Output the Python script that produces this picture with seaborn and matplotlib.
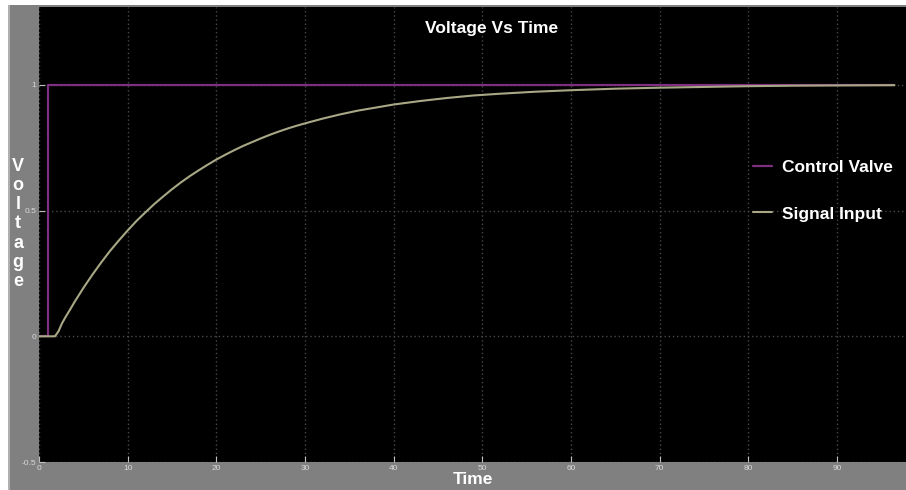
import matplotlib
matplotlib.use("Agg")
import matplotlib.pyplot as plt
import seaborn as sns
import pandas as pd
from matplotlib.patches import Rectangle

# ---- data ----
valve_time = [0, 1.0, 1.0, 96.5]
valve_volt = [0, 0, 1, 1]

signal_time = [0, 1.8, 2.2, 2.6, 3, 3.5, 4, 5, 6, 7, 8, 9, 10, 11, 12, 13, 14, 15,
               16, 17, 18, 19, 20, 21, 22, 23, 24, 25, 26, 27, 28, 29, 30,
               32, 34, 36, 38, 40, 43, 46, 49, 52, 56, 60, 65, 70, 75, 80,
               85, 90, 96.5]
signal_volt = [0, 0, 0.02, 0.052, 0.077, 0.106, 0.136, 0.192, 0.244, 0.293,
               0.339, 0.381, 0.421, 0.459, 0.493, 0.526, 0.556, 0.585, 0.612,
               0.637, 0.66, 0.682, 0.703, 0.722, 0.74, 0.757, 0.772, 0.787,
               0.801, 0.814, 0.826, 0.837, 0.847, 0.866, 0.883, 0.898, 0.91,
               0.922, 0.936, 0.948, 0.958, 0.965, 0.973, 0.979, 0.985, 0.989,
               0.992, 0.995, 0.997, 0.998, 0.999]

x_ticks = [0, 10, 20, 30, 40, 50, 60, 70, 80, 90]
y_ticks = [-0.5, 0, 0.5, 1]
y_tick_labels = ["-0.5", "0", "0.5", "1"]

title = "Voltage Vs Time"
x_label = "Time"
y_label = "Voltage"
series_names = ["Control Valve", "Signal Input"]
colors = ["#7e2f80", "#a9a886"]

sns.set_theme(style="dark")
plt.rcParams["font.family"] = ["Liberation Sans", "DejaVu Sans"]

W, H = 906, 490
fig = plt.figure(figsize=(W / 100, H / 100), dpi=100, facecolor="white")
fig.patches.append(Rectangle((8 / W, 0), 1 - 8 / W, (H - 5) / H,
                             transform=fig.transFigure, facecolor="#808080",
                             edgecolor="none", zorder=-10))
fig.patches.append(Rectangle((8 / W, 0), 1.5 / W, (H - 5) / H,
                             transform=fig.transFigure, facecolor="#b0b0b0",
                             edgecolor="none", zorder=-9))

ax = fig.add_axes([39 / W, (H - 462) / H, (W - 39) / W, (462 - 7) / H])
ax.set_facecolor("black")

df_v = pd.DataFrame({"Time": valve_time, "Voltage": valve_volt})
df_s = pd.DataFrame({"Time": signal_time, "Voltage": signal_volt})
sns.lineplot(data=df_v, x="Time", y="Voltage", ax=ax, color=colors[0],
             lw=1.6, label=series_names[0], sort=False, estimator=None, zorder=3)
sns.lineplot(data=df_s, x="Time", y="Voltage", ax=ax, color=colors[1],
             lw=1.5, label=series_names[1], sort=False, estimator=None, zorder=3)

ax.set_xlim(0, 97.8)
ax.set_ylim(-0.5, 1.31)
ax.set_xticks(x_ticks)
ax.set_xticklabels([str(t) for t in x_ticks])
ax.set_yticks(y_ticks)
ax.set_yticklabels(y_tick_labels)
ax.tick_params(axis="both", which="major", labelsize=6, labelcolor="#d8d8d8",
               color="#c0c0c0", direction="in", length=4, width=0.8, pad=2,
               bottom=True, left=True)
ax.grid(True, color="#484848", linestyle=(0, (1, 2)), linewidth=1.0)
for s in ax.spines.values():
    s.set_visible(False)

ax.set_xlabel(x_label, color="white", fontsize=12.5, fontweight="bold", labelpad=0)
ax.set_ylabel("\n".join(y_label), color="white", fontsize=13, fontweight="bold",
              rotation=0, linespacing=1.16, va="center", ha="center")
ax.yaxis.set_label_coords((18 - 39) / (W - 39), (462 - 224) / (462 - 7))

ax.text((492 - 39) / (W - 39), (462 - 28) / (462 - 7), title, transform=ax.transAxes,
        color="white", fontsize=12.5, fontweight="bold", ha="center", va="center")

leg = ax.legend(loc="upper left", bbox_to_anchor=((746 - 39) / (W - 39), (462 - 153) / (462 - 7)),
                frameon=False, fontsize=12.5, handlelength=1.1, handletextpad=0.6,
                labelspacing=1.8, borderaxespad=0)
for t in leg.get_texts():
    t.set_color("white")
    t.set_fontweight("bold")

fig.savefig("out.png", dpi=100, facecolor=fig.get_facecolor())
